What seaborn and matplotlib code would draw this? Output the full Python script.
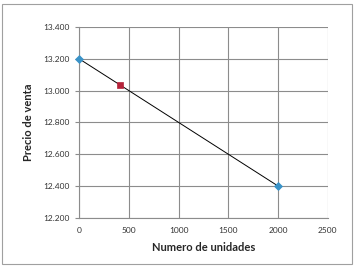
import matplotlib
matplotlib.use("Agg")
import matplotlib.pyplot as plt
import seaborn as sns
import pandas as pd
from matplotlib.patches import Rectangle

# Data
line_x = [0, 2000]
line_y = [13.2, 12.4]
point_x = [415]
point_y = [13.034]
x_ticks = [0, 500, 1000, 1500, 2000, 2500]
y_ticks = [12.2, 12.4, 12.6, 12.8, 13.0, 13.2, 13.4]
y_tick_labels = ["12.200", "12.400", "12.600", "12.800", "13.000", "13.200", "13.400"]

sns.set_style("white")
plt.rcParams['font.family'] = ['Lato', 'DejaVu Sans']

fig = plt.figure(figsize=(3.56, 2.69), dpi=100)
ax = fig.add_axes([0.222, 0.19, 0.699, 0.71])

df_line = pd.DataFrame({"x": line_x, "y": line_y})
df_pt = pd.DataFrame({"x": point_x, "y": point_y})

sns.lineplot(data=df_line, x="x", y="y", ax=ax, color="black", linewidth=0.7, zorder=3)
sns.scatterplot(data=df_line, x="x", y="y", ax=ax, color="#3A93C8", marker="D", s=16,
                edgecolor="#3A93C8", linewidth=0.6, zorder=4, clip_on=False)
sns.scatterplot(data=df_pt, x="x", y="y", ax=ax, color="#B5233A", marker="s", s=18,
                edgecolor="#B5233A", linewidth=0.5, zorder=4, clip_on=False)

ax.set_xlim(0, 2500)
ax.set_ylim(12.2, 13.4)
ax.set_xticks(x_ticks)
ax.set_xticklabels([str(t) for t in x_ticks])
ax.set_yticks(y_ticks)
ax.set_yticklabels(y_tick_labels)
ax.grid(True, color="#8c8c8c", linewidth=0.8)
ax.set_axisbelow(True)
for side in ["top", "right"]:
    ax.spines[side].set_visible(False)
for side in ["left", "bottom"]:
    ax.spines[side].set_color("#8c8c8c")
    ax.spines[side].set_linewidth(0.8)
ax.tick_params(axis="both", labelsize=6, colors="#333333", length=3, width=0.8)
ax.tick_params(axis="y", left=True, color="#8c8c8c")
ax.tick_params(axis="x", bottom=False)

ax.set_xlabel("Numero de unidades", fontsize=8, fontweight="bold", labelpad=6)
ax.set_ylabel("Precio de venta", fontsize=8, fontweight="bold", labelpad=7)

fig.patches.append(Rectangle((2/356, 1 - 264/269), 350/356, 260/269,
                             transform=fig.transFigure, fill=False,
                             edgecolor="#a0a0a0", linewidth=0.8))

fig.savefig("out.png", dpi=100)
